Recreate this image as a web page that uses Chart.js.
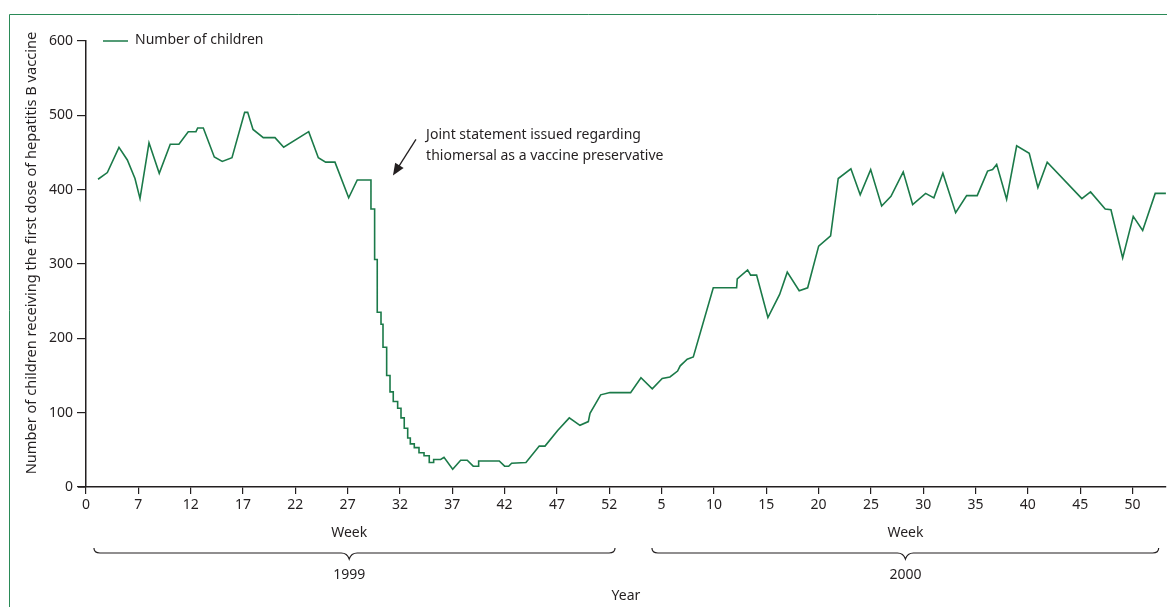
<!DOCTYPE html>
<html>
<head>
<meta charset="utf-8">
<script src="https://cdn.jsdelivr.net/npm/chart.js@4.4.1/dist/chart.umd.min.js"></script>
<style>
  html, body { margin: 0; padding: 0; background: #fff; }
  #wrap { width: 1167px; height: 607px; position: relative; }
</style>
</head>
<body>
<div id="wrap"><canvas id="hepb"></canvas></div>
<script>
// position along the axis in weeks (1999 week n = n, 2000 week n = 52 + n)
const weeks = [
  3.15, 4.04, 5.15, 5.95, 6.68, 7.16, 8.02, 9.0, 10.05, 10.88,
  11.77, 12.51, 12.67, 13.21, 14.26, 15.02, 15.95, 17.16, 17.45, 17.96,
  18.94, 20.06, 20.89, 23.28, 24.2, 24.9, 25.79, 27.1, 27.92, 29.23,
  29.23, 29.58, 29.58, 29.83, 29.83, 30.19, 30.19, 30.38, 30.38, 30.73,
  30.73, 31.05, 31.05, 31.36, 31.36, 31.78, 31.78, 32.1, 32.1, 32.41,
  32.41, 32.74, 32.74, 32.99, 32.99, 33.37, 33.37, 33.82, 33.82, 34.3,
  34.3, 34.8, 34.8, 35.22, 35.22, 35.89, 36.21, 37.04, 37.8, 38.43,
  39.0, 39.48, 39.52, 41.49, 42.0, 42.39, 42.67, 44.04, 45.31, 45.86,
  47.07, 48.18, 49.2, 50.0, 50.16, 51.18, 52.07, 54.04, 55.03, 56.11,
  57.06, 57.8, 58.53, 58.78, 59.45, 60.03, 61.94, 64.17, 64.23, 65.22,
  65.51, 66.08, 67.16, 68.28, 69.01, 70.15, 70.96, 72.01, 73.15, 73.88,
  75.09, 75.98, 76.98, 78.03, 78.92, 80.09, 80.99, 82.23, 83.02, 83.88,
  85.1, 86.15, 87.16, 88.15, 88.63, 89.02, 89.97, 90.93, 92.13, 92.96,
  93.85, 97.16, 97.99, 99.39, 99.94, 101.06, 102.07, 102.97, 104.17, 105.19
];
const children = [
  414, 423, 457, 440, 415, 388, 463, 422, 461, 461,
  478, 478, 483, 483, 444, 438, 443, 504, 504, 481,
  470, 470, 457, 478, 443, 437, 437, 389, 413, 413,
  374, 374, 306, 306, 235, 235, 219, 219, 188, 188,
  150, 150, 128, 128, 115, 115, 106, 106, 93, 93,
  79, 79, 66, 66, 58, 58, 53, 53, 46, 46,
  42, 42, 33, 33, 37, 37, 40, 24, 36, 36,
  28, 28, 35, 35, 28, 28, 32, 33, 55, 55,
  76, 93, 83, 88, 99, 124, 127, 127, 147, 132,
  146, 148, 156, 163, 172, 175, 268, 268, 280, 292,
  285, 285, 228, 259, 289, 264, 268, 324, 338, 415,
  428, 393, 427, 378, 391, 424, 380, 395, 389, 422,
  369, 392, 392, 425, 427, 434, 387, 459, 449, 403,
  437, 388, 397, 374, 373, 308, 364, 345, 395, 395
];

const xTickPos = [2, 7, 12, 17, 22, 27, 32, 37, 42, 47, 52, 57, 62, 67, 72, 77, 82, 87, 92, 97, 102];
const xTickLabels = ['0', '7', '12', '17', '22', '27', '32', '37', '42', '47', '52',
                     '5', '10', '15', '20', '25', '30', '35', '40', '45', '50'];
const yearLabels = ['1999', '2000'];
const yearSpans = [[2.76, 52.55], [56.08, 104.5]];
const yearCentres = [27.15, 80.3];

const noteLines = ['Joint statement issued regarding', 'thiomersal as a vaccine preservative'];

const FONT = '"Noto Sans", "Open Sans", sans-serif';
const INK = '#231f20';
const GREEN = '#1b7a49';

const overlay = {
  id: 'overlay',
  beforeDraw(chart) {
    const ctx = chart.ctx;
    ctx.save();
    ctx.strokeStyle = '#2a8a57';
    ctx.lineWidth = 1;
    ctx.beginPath();
    ctx.moveTo(9.5, 607);
    ctx.lineTo(9.5, 14.5);
    ctx.lineTo(1167, 14.5);
    ctx.stroke();
    ctx.restore();
  },
  afterDraw(chart) {
    const { ctx, chartArea } = chart;
    const x = chart.scales.x, y = chart.scales.y;
    const base = chartArea.bottom;
    ctx.save();
    ctx.fillStyle = INK;
    ctx.strokeStyle = INK;
    ctx.font = '14px ' + FONT;
    ctx.textBaseline = 'middle';

    // x axis line runs a little past the y axis
    ctx.lineWidth = 1.5;
    ctx.beginPath();
    ctx.moveTo(chartArea.left - 8, base);
    ctx.lineTo(chartArea.left, base);
    ctx.stroke();

    // legend
    const ds = chart.data.datasets[0];
    ctx.strokeStyle = ds.borderColor;
    ctx.beginPath();
    ctx.moveTo(chartArea.left + 17, chartArea.top);
    ctx.lineTo(chartArea.left + 42, chartArea.top);
    ctx.stroke();
    ctx.textAlign = 'left';
    ctx.fillText(ds.label, chartArea.left + 49, chartArea.top - 1);

    // y title
    ctx.save();
    ctx.font = '14.6px ' + FONT;
    ctx.translate(32, 253);
    ctx.rotate(-Math.PI / 2);
    ctx.textAlign = 'center';
    ctx.fillText('Number of children receiving the first dose of hepatitis B vaccine', 0, 0);
    ctx.restore();

    // annotation
    const tx = x.getPixelForValue(34.5), ty = y.getPixelForValue(474);
    ctx.textAlign = 'left';
    noteLines.forEach((s, i) => ctx.fillText(s, tx, ty + i * 21));
    const ax = x.getPixelForValue(31.33), ay = y.getPixelForValue(419);
    const bx = x.getPixelForValue(33.53), by = y.getPixelForValue(467.7);
    const ang = Math.atan2(ay - by, ax - bx);
    ctx.strokeStyle = INK;
    ctx.lineWidth = 1.3;
    ctx.beginPath();
    ctx.moveTo(bx, by);
    ctx.lineTo(ax - 8 * Math.cos(ang), ay - 8 * Math.sin(ang));
    ctx.stroke();
    ctx.beginPath();
    ctx.moveTo(ax, ay);
    ctx.lineTo(ax - 12 * Math.cos(ang) + 5 * Math.sin(ang), ay - 12 * Math.sin(ang) - 5 * Math.cos(ang));
    ctx.lineTo(ax - 12 * Math.cos(ang) - 5 * Math.sin(ang), ay - 12 * Math.sin(ang) + 5 * Math.cos(ang));
    ctx.closePath();
    ctx.fill();

    // week / year labels with braces
    ctx.textAlign = 'center';
    ctx.lineWidth = 1.2;
    yearLabels.forEach((lab, i) => {
      const l = x.getPixelForValue(yearSpans[i][0]);
      const r = x.getPixelForValue(yearSpans[i][1]);
      const c = x.getPixelForValue(yearCentres[i]);
      ctx.fillText('Week', c, base + 46);
      const t = base + 61, m = base + 66, b = base + 72;
      ctx.beginPath();
      ctx.moveTo(l, t);
      ctx.quadraticCurveTo(l, m, l + 6, m);
      ctx.lineTo(c - 8, m);
      ctx.quadraticCurveTo(c - 2, m, c, b);
      ctx.quadraticCurveTo(c + 2, m, c + 8, m);
      ctx.lineTo(r - 6, m);
      ctx.quadraticCurveTo(r, m, r, t);
      ctx.stroke();
      ctx.fillText(lab, c, base + 88);
    });
    ctx.fillText('Year', (chartArea.left + chartArea.right) / 2, base + 109);
    ctx.restore();
  }
};

new Chart(document.getElementById('hepb'), {
  type: 'line',
  data: {
    datasets: [{
      label: 'Number of children',
      data: weeks.map((w, i) => ({ x: w, y: children[i] })),
      borderColor: GREEN,
      borderWidth: 1.6,
      pointRadius: 0,
      tension: 0,
      fill: false
    }]
  },
  options: {
    responsive: true,
    maintainAspectRatio: false,
    animation: false,
    devicePixelRatio: 1,
    layout: { padding: { top: 41, right: 1, left: 0, bottom: 0 } },
    plugins: {
      legend: { display: false },
      tooltip: { enabled: false }
    },
    scales: {
      x: {
        type: 'linear',
        min: 2,
        max: 105.2,
        afterBuildTicks: s => { s.ticks = xTickPos.map(v => ({ value: v })); },
        afterFit: s => { s.height = 120; },
        border: { color: INK, width: 1.5 },
        grid: { drawOnChartArea: false, drawTicks: true, tickLength: 7, color: INK, lineWidth: 1.2 },
        ticks: {
          autoSkip: false,
          maxRotation: 0,
          padding: 3,
          color: INK,
          font: { family: FONT, size: 14 },
          callback: (v, i) => xTickLabels[i]
        }
      },
      y: {
        min: 0,
        max: 600,
        afterFit: s => { s.width = 86; },
        border: { color: INK, width: 1.5 },
        grid: { drawOnChartArea: false, drawTicks: true, tickLength: 9, color: INK, lineWidth: 1.2 },
        ticks: {
          stepSize: 100,
          padding: 4,
          color: INK,
          font: { family: FONT, size: 14 }
        }
      }
    }
  },
  plugins: [overlay]
});
</script>
</body>
</html>
